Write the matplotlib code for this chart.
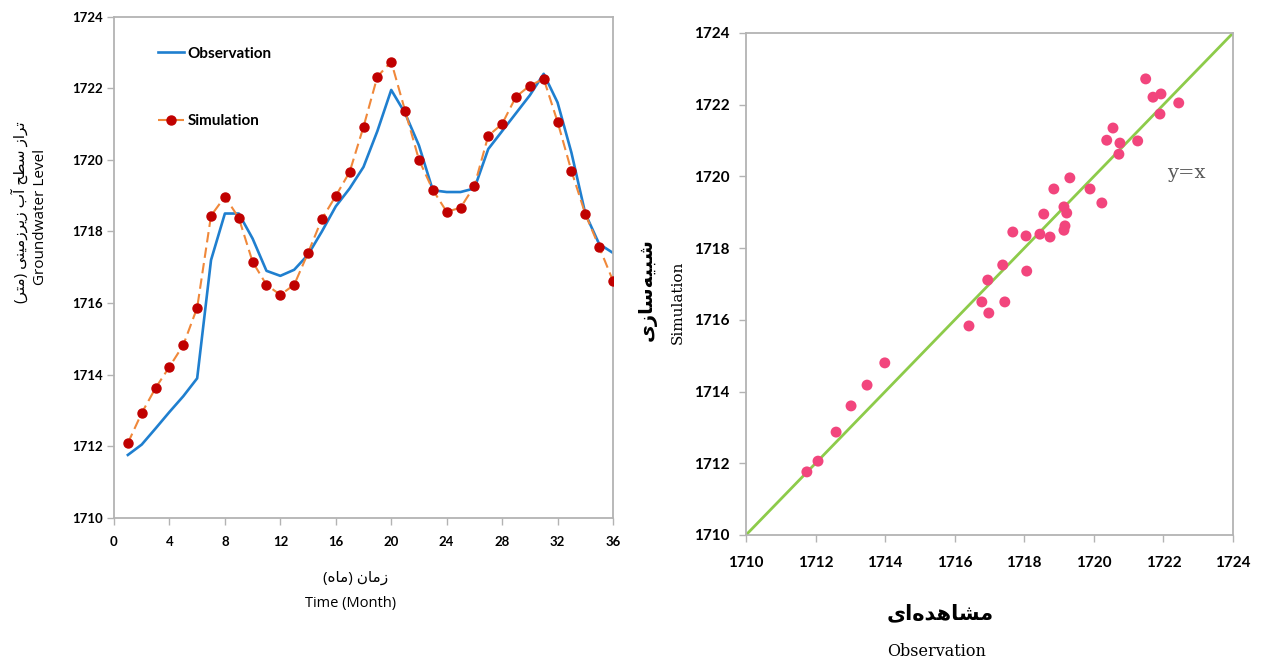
import numpy as np
import matplotlib
matplotlib.use('Agg')
import matplotlib.pyplot as plt

# ── data ──
months = list(range(1, 37))
observation = [1711.76, 1712.05, 1712.50, 1712.96, 1713.40, 1713.90, 1717.20, 1718.50, 1718.50,
               1717.80, 1716.90, 1716.76, 1716.93, 1717.35, 1718.00, 1718.70, 1719.20, 1719.80,
               1720.80, 1721.95, 1721.30, 1720.40, 1719.15, 1719.10, 1719.10, 1719.20, 1720.30,
               1720.80, 1721.30, 1721.80, 1722.40, 1721.60, 1720.20, 1718.50, 1717.65, 1717.40]
simulation = [1712.09, 1712.93, 1713.63, 1714.22, 1714.83, 1715.87, 1718.44, 1718.97, 1718.38,
              1717.15, 1716.51, 1716.23, 1716.51, 1717.40, 1718.35, 1718.99, 1719.66, 1720.92,
              1722.32, 1722.74, 1721.37, 1720.00, 1719.16, 1718.55, 1718.66, 1719.27, 1720.67,
              1721.00, 1721.76, 1722.07, 1722.26, 1721.06, 1719.69, 1718.49, 1717.57, 1716.62]

scatter_obs = [1711.75, 1712.07, 1712.59, 1713.02, 1713.48, 1713.99, 1716.41, 1716.78, 1716.98,
               1717.44, 1716.95, 1717.38, 1718.07, 1717.67, 1718.05, 1718.45, 1718.74, 1718.56,
               1719.14, 1719.22, 1719.17, 1719.14, 1718.85, 1719.31, 1719.89, 1720.23, 1720.37,
               1720.55, 1720.75, 1720.72, 1721.26, 1721.49, 1721.70, 1721.93, 1721.90, 1722.44]
scatter_sim = [1711.76, 1712.06, 1712.87, 1713.60, 1714.18, 1714.80, 1715.83, 1716.50, 1716.19,
               1716.50, 1717.11, 1717.53, 1717.36, 1718.45, 1718.34, 1718.39, 1718.31, 1718.95,
               1719.15, 1718.98, 1718.62, 1718.50, 1719.65, 1719.96, 1719.65, 1719.26, 1721.01,
               1721.35, 1720.93, 1720.62, 1720.99, 1722.72, 1722.21, 1722.30, 1721.74, 1722.05]

month_ticks = list(range(0, 37, 4))
level_ticks = list(range(1710, 1725, 2))
diag = [1710, 1724]

# ── minimal Persian shaping (matplotlib has no RTL/joining support) ──
FORMS = {
    'ا': ('\uFE8D', '\uFE8E'), 'آ': ('\uFE81', '\uFE82'),
    'د': ('\uFEA9', '\uFEAA'), 'ر': ('\uFEAD', '\uFEAE'), 'ز': ('\uFEAF', '\uFEB0'),
    'ب': ('\uFE8F', '\uFE90', '\uFE91', '\uFE92'), 'ت': ('\uFE95', '\uFE96', '\uFE97', '\uFE98'),
    'ح': ('\uFEA1', '\uFEA2', '\uFEA3', '\uFEA4'), 'س': ('\uFEB1', '\uFEB2', '\uFEB3', '\uFEB4'),
    'ش': ('\uFEB5', '\uFEB6', '\uFEB7', '\uFEB8'), 'ط': ('\uFEC1', '\uFEC2', '\uFEC3', '\uFEC4'),
    'م': ('\uFEE1', '\uFEE2', '\uFEE3', '\uFEE4'), 'ن': ('\uFEE5', '\uFEE6', '\uFEE7', '\uFEE8'),
    'ه': ('\uFEE9', '\uFEEA', '\uFEEB', '\uFEEC'), 'ی': ('\uFBFC', '\uFBFD', '\uFBFE', '\uFBFF'),
}


def fa(s):
    out = []
    for i, c in enumerate(s):
        if c not in FORMS:
            out.append(c)
            continue
        f = FORMS[c]
        prev = s[i - 1] if i > 0 else None
        nxt = s[i + 1] if i + 1 < len(s) else None
        jp = prev in FORMS and len(FORMS[prev]) == 4
        jn = len(f) == 4 and nxt in FORMS
        out.append(f[3] if jp and jn else f[1] if jp else f[2] if jn else f[0])
    txt = ''.join(out).replace('\u200c', '')
    return txt[::-1].translate(str.maketrans('()', ')('))


SANS = ['Lato', 'DejaVu Sans']
LABEL = ['Open Sans', 'DejaVu Sans']
SERIF = ['DejaVu Serif']
GRID = '#b3b3b3'

fig = plt.figure(figsize=(12.62, 6.64), dpi=100)
W, H = 1262, 664
ax1 = fig.add_axes([114 / W, 1 - 518 / H, (613 - 114) / W, (518 - 16.5) / H])
ax2 = fig.add_axes([746 / W, 1 - 535 / H, (1233 - 746) / W, (535 - 33) / H])

# ── left: time series ──
ax1.plot(months, observation, color='#1f7fcf', lw=1.9, label='Observation', zorder=2)
ax1.plot(months, simulation, color='#f0883a', lw=1.5, dashes=(5, 2.5),
         marker='o', ms=6.5, mfc='#c00000', mec='#c00000', label='Simulation', zorder=3)
ax1.set_xlim(0, 36)
ax1.set_ylim(1710, 1724)
ax1.set_xticks(month_ticks)
ax1.set_yticks(level_ticks)
leg = ax1.legend(loc='upper left', bbox_to_anchor=(0.088, 0.94), frameon=False,
                 borderpad=0, borderaxespad=0, labelspacing=3.5, handlelength=1.7,
                 handletextpad=0.25, prop={'family': SANS, 'weight': 'bold', 'size': 11})

fig.text(20 / W, 1 - 212 / H, fa('تراز سطح آب زیرزمینی (متر)'), rotation=90,
         ha='center', va='center', family=LABEL, fontsize=11)
fig.text(41 / W, 1 - 217 / H, 'Groundwater Level', rotation=90,
         ha='center', va='center', family=LABEL, fontsize=11)
fig.text(356 / W, 1 - 578 / H, fa('زمان (ماه)'), ha='center', va='center',
         family=LABEL, fontsize=11)
fig.text(351 / W, 1 - 604 / H, 'Time (Month)', ha='center', va='center',
         family=LABEL, fontsize=10.5)

# ── right: scatter ──
ax2.plot(diag, diag, color='#8dcb4a', lw=2, zorder=2)
ax2.scatter(scatter_obs, scatter_sim, s=62, color='#f2457d', edgecolors='none', zorder=3)
ax2.set_xlim(1710, 1724)
ax2.set_ylim(1710, 1724)
ax2.set_xticks(level_ticks)
ax2.set_yticks(level_ticks)
ax2.text(1722.65, 1720.1, 'y=x', color='#595959', family=SERIF, fontsize=14,
         ha='center', va='center')

fig.text(647 / W, 1 - 290 / H, fa('شبیه‌سازی'), rotation=90, ha='center', va='center',
         family=['DejaVu Sans'], fontweight='bold', fontsize=14)
fig.text(678 / W, 1 - 302 / H, 'Simulation', rotation=90, ha='center', va='center',
         family=SERIF, fontsize=11)
fig.text(940 / W, 1 - 613 / H, fa('مشاهده‌ای'), ha='center', va='center',
         family=['DejaVu Sans'], fontweight='bold', fontsize=15)
fig.text(937 / W, 1 - 652 / H, 'Observation', ha='center', va='center',
         family=SERIF, fontsize=11.5)

for ax, size, xpad, ypad in ((ax1, 9.5, 8, 3), (ax2, 11, 10, 7)):
    for sp in ax.spines.values():
        sp.set_color(GRID)
        sp.set_linewidth(1.3)
    ax.tick_params(direction='out', length=5, width=1, color=GRID)
    ax.tick_params(axis='x', pad=xpad)
    ax.tick_params(axis='y', pad=ypad)
    for lab in ax.get_xticklabels() + ax.get_yticklabels():
        lab.set_family(SANS)
        lab.set_fontweight('bold')
        lab.set_fontsize(size)

fig.savefig('out.png', dpi=100)
